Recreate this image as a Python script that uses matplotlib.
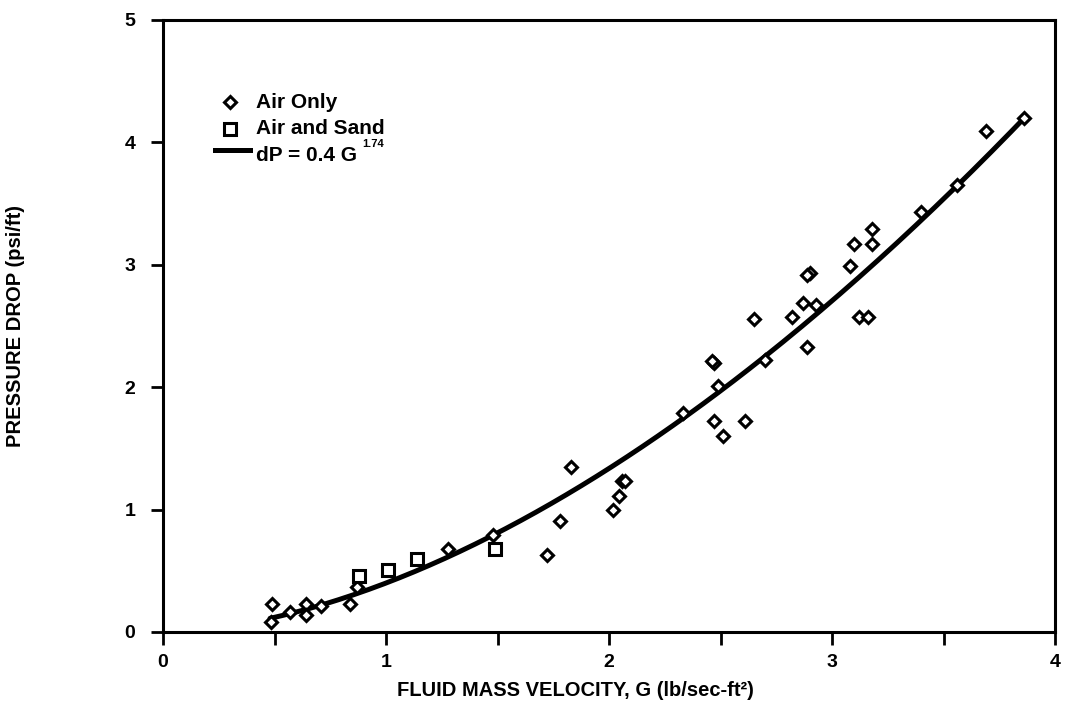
import matplotlib
matplotlib.use("Agg")
import matplotlib.pyplot as plt
import numpy as np

# Air only runs: fluid mass velocity G (lb/sec-ft2) vs pressure drop (psi/ft)
air_g = [0.49, 0.486, 0.57, 0.64, 0.64, 0.71, 0.84, 0.87, 1.28, 1.48,
         1.72, 1.78, 1.83, 2.02, 2.045, 2.06, 2.07, 2.33, 2.47, 2.51,
         2.61, 2.49, 2.47, 2.46, 2.65, 2.70, 2.82, 2.87, 2.93, 2.89,
         2.90, 2.89, 3.08, 3.10, 3.12, 3.16, 3.18, 3.18, 3.40, 3.56,
         3.69, 3.86]
air_dp = [0.23, 0.08, 0.16, 0.23, 0.14, 0.21, 0.23, 0.37, 0.68, 0.79,
          0.63, 0.91, 1.35, 1.00, 1.11, 1.23, 1.23, 1.79, 1.72, 1.60,
          1.72, 2.01, 2.20, 2.21, 2.56, 2.22, 2.57, 2.69, 2.67, 2.33,
          2.93, 2.92, 2.99, 3.17, 2.57, 2.57, 3.17, 3.29, 3.43, 3.65,
          4.09, 4.20]

# Air and sand runs
sand_g = [0.88, 1.01, 1.14, 1.49]
sand_dp = [0.46, 0.51, 0.60, 0.675]

# correlation dP = a * G^b
fit_a = 0.4
fit_b = 1.74
fit_range = (0.48, 3.87)

x_ticks = [0, 1, 2, 3, 4]
y_ticks = [0, 1, 2, 3, 4, 5]

plt.rcParams["font.family"] = ["Liberation Sans", "DejaVu Sans"]
plt.rcParams["font.weight"] = "bold"

fig = plt.figure(figsize=(10.66, 7.11), dpi=100)
ax = fig.add_axes([163 / 1066, 1 - 632 / 711, 892 / 1066, 612 / 711])

g = np.linspace(fit_range[0], fit_range[1], 200)
ax.plot(g, fit_a * g ** fit_b, color="black", lw=3.6, solid_capstyle="round", zorder=2)

ax.plot(air_g, air_dp, ls="none", marker="D", ms=6, mfc="white", mec="black",
        mew=2.2, zorder=3)
ax.plot(sand_g, sand_dp, ls="none", marker="s", ms=8.5, mfc="white", mec="black",
        mew=2.2, zorder=3)

ax.set_xlim(0, 4)
ax.set_ylim(0, 5)
ax.set_xticks(x_ticks)
ax.set_xticks(np.arange(0.5, 4, 1.0), minor=True)
ax.set_yticks(y_ticks)
ax.tick_params(axis="both", which="both", direction="out", length=9, width=2,
               labelsize=14)
ax.tick_params(axis="x", pad=7)
ax.tick_params(axis="y", pad=11)
for lab in ax.get_xticklabels() + ax.get_yticklabels():
    lab.set_fontweight("bold")
for sp in ax.spines.values():
    sp.set_linewidth(2.2)

ax.set_xlabel("FLUID MASS VELOCITY, G (lb/sec-ft²)", fontsize=14.5, fontweight="bold")
ax.xaxis.set_label_coords(0.462, -0.08)
ax.set_ylabel("PRESSURE DROP (psi/ft)", fontsize=14.5, fontweight="bold")
ax.yaxis.set_label_coords(-0.155, 0.5)

# hand-placed key in the upper left corner
tr = ax.transAxes
ax.plot([0.075], [0.866], marker="D", ms=6, mfc="white", mec="black", mew=2.2,
        transform=tr, clip_on=False)
ax.plot([0.075], [0.822], marker="s", ms=8, mfc="white", mec="black", mew=2.2,
        transform=tr, clip_on=False)
ax.plot([0.058, 0.097], [0.787, 0.787], color="black", lw=3.6, transform=tr,
        clip_on=False)
ax.text(0.104, 0.866, "Air Only", transform=tr, fontsize=15, fontweight="bold",
        va="center", ha="left")
ax.text(0.104, 0.822, "Air and Sand", transform=tr, fontsize=15, fontweight="bold",
        va="center", ha="left")
fit_txt = ax.text(0.104, 0.779, f"dP = {fit_a} G", transform=tr, fontsize=15,
                  fontweight="bold", va="center", ha="left")
ax.annotate(f"{fit_b}", xy=(1, 1), xycoords=fit_txt, xytext=(4, 5),
            textcoords="offset points", fontsize=8, fontweight="bold",
            va="top", ha="left")

fig.savefig("out.png", dpi=100)
